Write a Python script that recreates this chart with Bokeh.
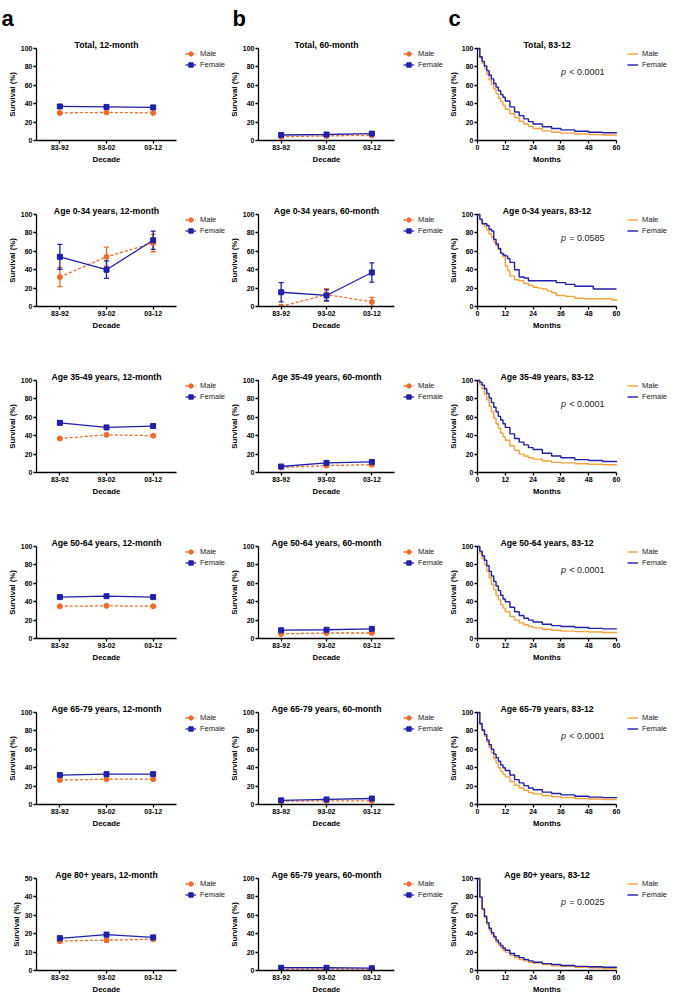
from bokeh.plotting import figure
from bokeh.models import (ColumnDataSource, Whisker, TeeHead, Legend, LegendItem,
                          Label, FixedTicker, Range1d, Title)
from bokeh.layouts import gridplot
from bokeh.embed import file_html
from bokeh.resources import INLINE

# ---------------- data ----------------
decades = ["83-92", "93-02", "03-12"]
decade_pos = [1, 2, 3]

# columns a / b : survival (%) and half-width of 95% CI
total12_m = [30.0, 30.5, 30.0];   total12_m_ci = [0.6, 0.6, 0.6]
total12_f = [37.0, 36.5, 36.0];   total12_f_ci = [0.7, 0.7, 0.7]
total60_m = [4.0, 5.0, 5.5];      total60_m_ci = [0.5, 0.5, 0.5]
total60_f = [6.0, 6.5, 7.5];      total60_f_ci = [0.6, 0.6, 0.6]
a034_12_m = [32.0, 54.0, 69.0];   a034_12_m_ci = [10.5, 10.5, 9.5]
a034_12_f = [54.0, 40.0, 72.0];   a034_12_f_ci = [13.5, 9.5, 10.0]
a034_60_m = [0.0, 13.0, 5.0];     a034_60_m_ci = [0.0, 6.5, 5.0]
a034_60_f = [15.5, 12.0, 37.0];   a034_60_f_ci = [10.5, 6.0, 10.5]
a3549_12_m = [37.0, 41.0, 40.0];  a3549_12_m_ci = [1.0, 1.0, 1.0]
a3549_12_f = [54.0, 49.0, 50.5];  a3549_12_f_ci = [2.0, 1.0, 1.0]
a3549_60_m = [5.5, 7.5, 8.5];     a3549_60_m_ci = [0.8, 0.8, 0.8]
a3549_60_f = [6.5, 10.5, 11.5];   a3549_60_f_ci = [1.0, 1.0, 1.0]
a5064_12_m = [35.0, 35.5, 35.0];  a5064_12_m_ci = [0.7, 0.7, 0.7]
a5064_12_f = [45.0, 46.0, 45.0];  a5064_12_f_ci = [0.8, 0.8, 0.8]
a5064_60_m = [5.0, 6.0, 6.0];     a5064_60_m_ci = [0.5, 0.5, 0.5]
a5064_60_f = [9.0, 9.5, 10.5];    a5064_60_f_ci = [0.6, 0.6, 0.6]
a6579_12_m = [26.5, 27.5, 27.5];  a6579_12_m_ci = [0.6, 0.6, 0.6]
a6579_12_f = [32.0, 33.0, 33.0];  a6579_12_f_ci = [0.7, 0.7, 0.7]
a6579_60_m = [3.5, 4.0, 4.0];     a6579_60_m_ci = [0.4, 0.4, 0.4]
a6579_60_f = [4.5, 5.5, 6.5];     a6579_60_f_ci = [0.5, 0.5, 0.5]
a80_12_m = [16.0, 16.5, 17.0];    a80_12_m_ci = [1.0, 1.0, 0.7]
a80_12_f = [17.5, 19.5, 18.0];    a80_12_f_ci = [1.3, 1.0, 0.7]
a80_60_m = [1.0, 1.5, 1.0];       a80_60_m_ci = [0.3, 0.3, 0.3]
a80_60_f = [3.0, 3.0, 2.5];       a80_60_f_ci = [0.4, 0.4, 0.4]

titles_a = ["Total, 12-month", "Age 0-34 years, 12-month", "Age 35-49 years, 12-month",
            "Age 50-64 years, 12-month", "Age 65-79 years, 12-month", "Age 80+ years, 12-month"]
titles_b = ["Total, 60-month", "Age 0-34 years, 60-month", "Age 35-49 years, 60-month",
            "Age 50-64 years, 60-month", "Age 65-79 years, 60-month", "Age 65-79 years, 60-month"]
titles_c = ["Total, 83-12", "Age 0-34 years, 83-12", "Age 35-49 years, 83-12",
            "Age 50-64 years, 83-12", "Age 65-79 years, 83-12", "Age 80+ years, 83-12"]
ymax_a = [100, 100, 100, 100, 100, 50]
pvals = ["< 0.0001", "= 0.0585", "< 0.0001", "< 0.0001", "< 0.0001", "= 0.0025"]

# column c : Kaplan-Meier survival (%) at months
km_t = [0, 1, 2, 3, 4, 5, 6, 7, 8, 9, 10, 11, 12, 14, 16, 18, 20, 22, 24, 28, 32, 36, 42, 48, 54, 60]
km_total_m = [100, 90, 84, 78, 72, 66, 61, 56, 51, 46, 42, 38, 34, 29, 25, 21, 18, 15.5, 13, 10.5, 9, 8, 7, 6.5, 6, 5.5]
km_total_f = [100, 91, 86, 81, 76, 71, 67, 62, 58, 54, 50, 47, 43, 36.5, 31, 27, 23.5, 20.5, 18, 15, 13, 11.5, 10, 9, 8.5, 8]
km_3549_m = [100, 96, 91, 85, 79, 72, 66, 59, 53, 48, 43, 39, 35, 29, 24, 20, 18, 16, 14.5, 12.5, 11, 10.5, 9.5, 9, 8.5, 8]
km_3549_f = [100, 98, 95, 91, 86, 81, 76, 71, 66, 61, 57, 53, 49, 42, 37, 33, 30, 27, 25, 21, 18, 16, 14, 13, 12, 11.5]
km_5064_m = [100, 93, 87, 80, 73, 66, 59, 53, 47, 42, 37, 33, 29, 24, 20, 17, 15, 13, 11.5, 10, 9, 8, 7.5, 7, 6.5, 6]
km_5064_f = [100, 95, 90, 85, 79, 73, 68, 62, 57, 52, 47, 43, 40, 34, 29, 25, 22, 20, 18, 15.5, 14, 13, 12, 11, 10.5, 10]
km_6579_m = [100, 87, 80, 74, 68, 62, 56, 50, 45, 40, 36, 33, 30, 25, 21, 18, 15.5, 13, 11.5, 9.5, 8.5, 7.5, 6.5, 6, 5.5, 5]
km_6579_f = [100, 88, 81, 76, 70, 65, 60, 55, 51, 47, 43, 40, 37, 32, 27, 23.5, 20.5, 18, 16, 13.5, 12, 10.5, 9, 8, 7.5, 7]
km_80_m = [100, 79, 66, 57, 50, 44, 39, 35, 31, 28, 25, 22, 20, 16.5, 14, 12, 10.5, 9, 8, 6.5, 5, 4.5, 3.5, 3, 2.5, 2]
km_80_f = [100, 80, 67, 59, 52, 46, 41, 37, 33, 30, 27, 24.5, 22, 18.5, 16, 14, 12, 10.5, 9, 7.5, 6.5, 5.5, 4.5, 4, 3.5, 3]
km034_t = [0, 1, 2, 3, 4, 5, 6, 7, 8, 9, 10, 11, 12, 13, 14, 16, 18, 20, 22, 24, 26, 28, 30, 32,
           34, 38, 42, 46, 50, 54, 58, 60]
km_034_m = [100, 94, 90, 87, 83, 79, 75, 70, 66, 62, 58, 54, 44, 39, 33, 29, 28, 25, 23, 21, 20, 19,
            17, 15, 12, 11, 9, 8.5, 8.5, 8.5, 7, 6]
km_034_f = [100, 95, 90, 90, 88, 84, 82, 73, 68, 63, 58, 56, 55, 52, 48, 40, 32, 31, 28, 28, 28, 28,
            28, 28, 26, 24, 22, 22, 19, 19, 19, 19]

panels_a = [(total12_m, total12_m_ci, total12_f, total12_f_ci),
            (a034_12_m, a034_12_m_ci, a034_12_f, a034_12_f_ci),
            (a3549_12_m, a3549_12_m_ci, a3549_12_f, a3549_12_f_ci),
            (a5064_12_m, a5064_12_m_ci, a5064_12_f, a5064_12_f_ci),
            (a6579_12_m, a6579_12_m_ci, a6579_12_f, a6579_12_f_ci),
            (a80_12_m, a80_12_m_ci, a80_12_f, a80_12_f_ci)]
panels_b = [(total60_m, total60_m_ci, total60_f, total60_f_ci),
            (a034_60_m, a034_60_m_ci, a034_60_f, a034_60_f_ci),
            (a3549_60_m, a3549_60_m_ci, a3549_60_f, a3549_60_f_ci),
            (a5064_60_m, a5064_60_m_ci, a5064_60_f, a5064_60_f_ci),
            (a6579_60_m, a6579_60_m_ci, a6579_60_f, a6579_60_f_ci),
            (a80_60_m, a80_60_m_ci, a80_60_f, a80_60_f_ci)]
panels_c = [(km_t, km_total_m, km_total_f), (km034_t, km_034_m, km_034_f),
            (km_t, km_3549_m, km_3549_f), (km_t, km_5064_m, km_5064_f),
            (km_t, km_6579_m, km_6579_f), (km_t, km_80_m, km_80_f)]

# ---------------- style / layout ----------------
FONT = "Liberation Sans"
MALE = "#F26A2A"
MALE_KM = "#F6A13E"
FEMALE = "#2020A8"
COL_W = [226, 219, 230]
LEFTS = [36, 32, 32]
FWS = [140, 136, 139]      # pixel width of the data part of each panel
GAPS = [9, 9, 11]          # gap between data part and legend
FH = 92                    # pixel height of the data part
Y_TOP = 48                 # pixel offset of the y-max line from the figure top
ROW_H = [166, 166, 166, 166, 166, 165]
LETTER_T = 32
LETTER_OFF = [-35, -26, -29]
AXLAB_SIZE = 7.8
XLAB_EM = 3.56             # approx. width of "Decade"/"Months" in em (bold sans)
YLAB_EM = 5.72             # approx. width of "Survival (%)" in em (bold sans)


def make_fig(row, col, x0, x1, ymax, title, xlabel):
    h = ROW_H[row]
    left = LEFTS[col]
    w = COL_W[col]
    top = LETTER_T if row == 0 else 0
    bottom = h - Y_TOP - FH
    frame_w = w - left
    x_end = x0 + (x1 - x0) * frame_w / FWS[col]
    y_end = ymax + (Y_TOP - top) * ymax / FH
    p = figure(width=w, height=h, output_backend="svg", toolbar_location=None,
               min_border_left=left, min_border_right=0, min_border_top=top,
               min_border_bottom=bottom,
               x_range=Range1d(x0, x_end), y_range=Range1d(0, y_end))
    if row == 0:
        p.add_layout(Title(text="abc"[col], align="left", offset=LETTER_OFF[col], text_font=FONT,
                           text_font_size="22px", text_font_style="bold", text_color="black",
                           standoff=4), "above")
    p.xgrid.visible = False
    p.ygrid.visible = False
    p.outline_line_color = None
    for ax in (p.xaxis[0], p.yaxis[0]):
        ax.axis_line_width = 1.3
        ax.axis_line_color = "black"
        ax.major_tick_line_width = 1.3
        ax.major_tick_line_color = "black"
        ax.major_tick_in = 0
        ax.major_tick_out = 3
        ax.minor_tick_in = 0
        ax.minor_tick_out = 0
        ax.major_label_text_font = FONT
        ax.major_label_text_font_size = "7px"
        ax.major_label_text_font_style = "bold"
        ax.major_label_text_color = "black"
        ax.major_label_standoff = 1
    p.xaxis.bounds = (x0, x1)
    p.yaxis.bounds = (0, ymax)
    # axis titles, centred on the data part of each axis
    p.add_layout(Title(text=xlabel, align="left",
                       offset=FWS[col] / 2 - XLAB_EM * AXLAB_SIZE / 2,
                       text_font=FONT, text_font_size=f"{AXLAB_SIZE}px", text_font_style="bold",
                       text_color="black", standoff=1), "below")
    p.add_layout(Title(text="Survival (%)", align="left",
                       offset=FH / 2 - YLAB_EM * AXLAB_SIZE / 2,
                       text_font=FONT, text_font_size=f"{AXLAB_SIZE}px", text_font_style="bold",
                       text_color="black", standoff=1), "left")
    p.add_layout(Label(x=(x0 + x1) / 2, y=ymax * (1 + 4.0 / FH), text=title, text_align="center",
                       text_baseline="alphabetic", text_font=FONT, text_font_size="8.7px",
                       text_font_style="bold", text_color="black"))
    return p


def add_legend(p, col, items):
    leg = Legend(items=items, location=(FWS[col] + GAPS[col], FH - 22), orientation="vertical",
                 margin=0, padding=0, spacing=0, label_height=11, glyph_height=11,
                 glyph_width=11, label_standoff=4, label_text_font=FONT,
                 label_text_font_size="7.5px", label_text_color="#222222",
                 border_line_color=None, background_fill_alpha=0)
    p.add_layout(leg)


def decade_panel(row, col, title, data, ymax):
    m, mci, f, fci = data
    p = make_fig(row, col, 0.5, 3.5, ymax, title, "Decade")
    p.xaxis.ticker = FixedTicker(ticks=decade_pos)
    p.xaxis.major_label_overrides = {k: v for k, v in zip(decade_pos, decades)}
    p.yaxis.ticker = FixedTicker(ticks=list(range(0, ymax + 1, ymax // 5)))
    series = [(m, mci, MALE, "circle", "3 2", "Male"), (f, fci, FEMALE, "square", "solid", "Female")]
    items = []
    for vals, ci, color, marker, dash, name in series:
        src = ColumnDataSource(dict(x=decade_pos, y=vals,
                                    lo=[v - c for v, c in zip(vals, ci)],
                                    hi=[v + c for v, c in zip(vals, ci)]))
        w = Whisker(base="x", lower="lo", upper="hi", source=src, line_color=color, line_width=1.3,
                    upper_head=TeeHead(size=5, line_color=color, line_width=1.3),
                    lower_head=TeeHead(size=5, line_color=color, line_width=1.3))
        p.add_layout(w)
        ln = p.line("x", "y", source=src, line_color=color, line_width=1.3, line_dash=dash)
        sc = p.scatter("x", "y", source=src, marker=marker, size=5, fill_color=color,
                       line_color=color)
        items.append(LegendItem(label=name, renderers=[ln, sc]))
    add_legend(p, col, items)
    return p


def km_panel(row, title, data, pv):
    t, m, f = data
    p = make_fig(row, 2, 0, 60, 100, title, "Months")
    p.xaxis.ticker = FixedTicker(ticks=[0, 12, 24, 36, 48, 60])
    p.yaxis.ticker = FixedTicker(ticks=[0, 20, 40, 60, 80, 100])
    items = []
    for vals, color, name in [(m, MALE_KM, "Male"), (f, FEMALE, "Female")]:
        ln = p.step(t, vals, mode="after", line_color=color, line_width=1.4)
        tick = p.scatter(x=[], y=[], marker="cross", size=4, line_color=color, line_width=1)
        items.append(LegendItem(label=name, renderers=[ln, tick]))
    add_legend(p, 2, items)
    p.add_layout(Label(x=36, y=74, text="p", text_font=FONT, text_font_size="9px",
                       text_font_style="italic", text_baseline="middle", text_color="#222222"))
    p.add_layout(Label(x=39.6, y=74, text=pv, text_font=FONT, text_font_size="9px",
                       text_baseline="middle", text_color="#222222"))
    return p


rows = []
for r in range(6):
    pa = decade_panel(r, 0, titles_a[r], panels_a[r], ymax_a[r])
    pb = decade_panel(r, 1, titles_b[r], panels_b[r], 100)
    pc = km_panel(r, titles_c[r], panels_c[r], pvals[r])
    rows.append([pa, pb, pc])

grid = gridplot(rows, toolbar_location=None)
open("out.html", "w").write(file_html(grid, INLINE))
